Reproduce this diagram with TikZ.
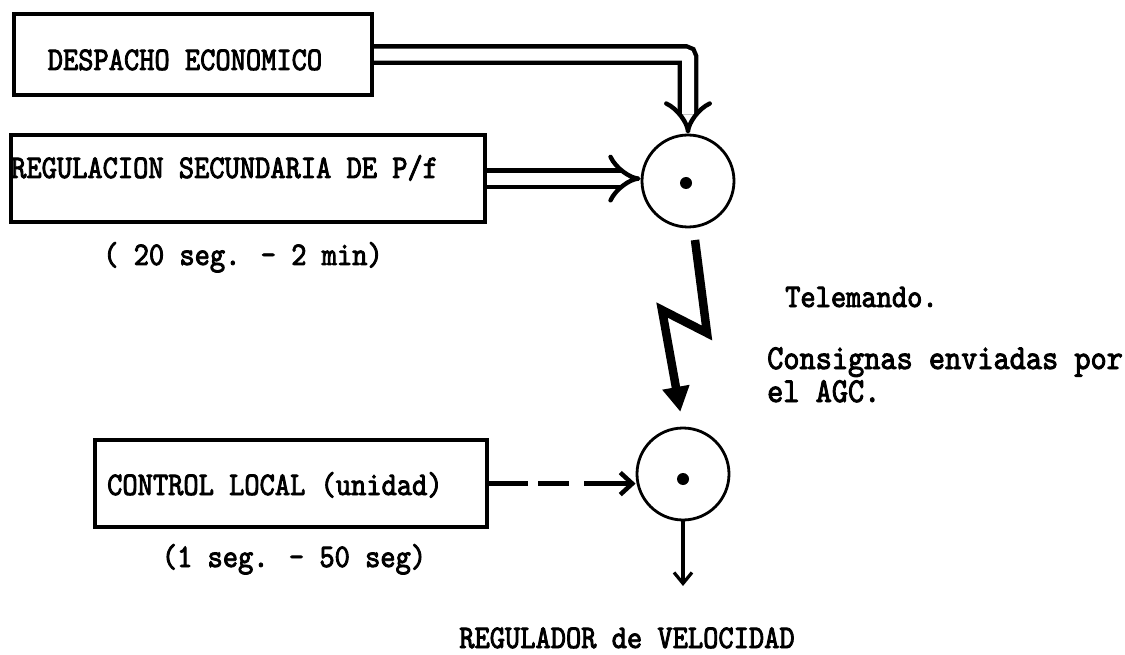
\documentclass[tikz,border=0pt]{standalone}
\usepackage{fontspec}
\newfontfamily\tw{lmmono10-regular.otf}[AutoFakeBold=2.6,FakeStretch=0.88]
\usetikzlibrary{arrows.meta,calc}

\begin{document}
\begin{tikzpicture}[x=1pt,y=-1pt,
  blockbox/.style={draw,line width=4.2pt,inner sep=0pt,anchor=north west},
  sumnode/.style={circle,draw,line width=2.8pt,minimum size=92pt,inner sep=0pt},
  dotnode/.style={circle,fill,minimum size=12pt,inner sep=0pt},
  txt/.style={inner sep=0pt,font=\tw\bfseries\fontsize{33}{38}\selectfont},
  txtbig/.style={inner sep=0pt,font=\tw\bfseries\fontsize{35}{40}\selectfont},
  dblarrow/.style={double,double distance=12pt,line width=4.4pt,-{Implies}},
  boltarrow/.style={line width=8.5pt,line join=miter,-{Triangle[length=25pt,width=26pt]}},
  dasharrow/.style={line width=4.5pt,dash pattern=on 39pt off 10pt on 31pt off 15pt on 80pt,
                    -{Straight Barb[length=12pt,width=22pt]}},
  outarrow/.style={line width=3.2pt,-{Straight Barb[length=11pt,width=18pt]}}
]
% page
\fill[white] (0,0) rectangle (1125,655);
\useasboundingbox (0,0) rectangle (1125,655);

% blocks
\node[blockbox,minimum width=358pt,minimum height=81pt] (b1) at (12,12) {};
\node[blockbox,minimum width=474pt,minimum height=87pt] (b2) at (9,133) {};
\node[blockbox,minimum width=392pt,minimum height=87pt] (b3) at (93,438) {};

\node[txt,anchor=base] (t1) at (185,70) {DESPACHO ECONOMICO};
\node[txt,anchor=base west] (t2) at (11,178) {REGULACION SECUNDARIA DE P/f};
\node[txt,anchor=base west] (t3) at (107,495) {CONTROL LOCAL (unidad)};

\node[txt,anchor=base] (l2) at (243,265) {( 20 seg. - 2 min)};
\node[txt,anchor=base] (l3) at (294,567) {(1 seg. - 50 seg)};

% summing points
\node[sumnode] (c1) at (688,181) {};
\node[sumnode] (c2) at (683,474) {};
\node[dotnode] (c1d) at (686,183) {};
\node[dotnode] (c2d) at (683,479) {};

% set-point inputs
\draw[dblarrow,rounded corners=3pt] (b1.east) -| (c1.north);
\draw[dblarrow] (b2.east) -- (b2.east -| c1.west);

% remote control link
\coordinate (ls) at (695,240);
\draw[boltarrow,shorten >=15pt] (ls) -- (707,333) -- (662,310) -- (c2.north);

\node[txt,anchor=base west] (tm) at (785,307) {Telemando.};
\node[txtbig,anchor=base west] (cs1) at (767,369) {Consignas enviadas por};
\node[txtbig,anchor=base west] (cs2) at (767,402) {el AGC.};

% local control
\draw[dasharrow] (b3.east) -- (b3.east -| c2.west);

% output
\coordinate (ro) at (683,586);
\draw[outarrow] (c2.south) -- (ro);
\node[txt,anchor=base] (rv) at (627,648) {REGULADOR de VELOCIDAD};
\end{tikzpicture}
\end{document}
